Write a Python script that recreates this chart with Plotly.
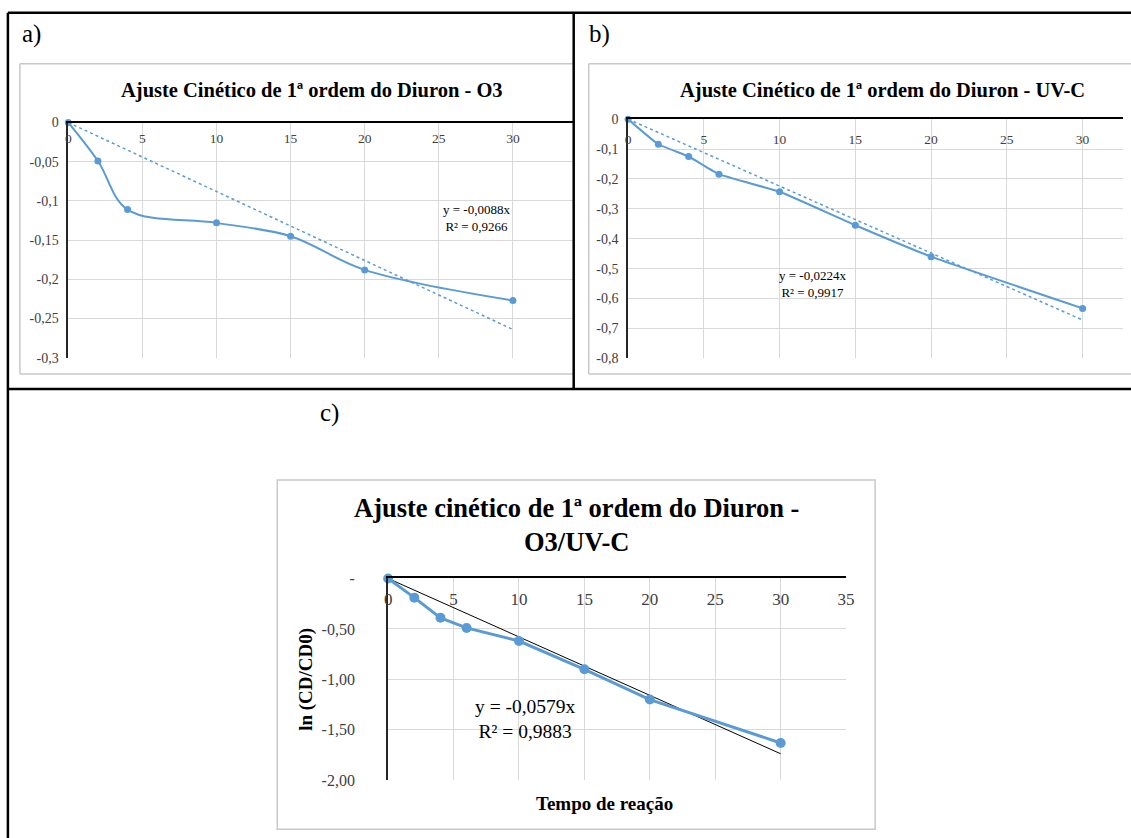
import plotly.graph_objects as go

W, H = 1131, 838

# ---------------- data ----------------
time_a = [0, 2, 4, 10, 15, 20, 30]
ln_a = [0, -0.049, -0.111, -0.128, -0.145, -0.188, -0.227]
slope_a = -0.0088
eq_a = "y = -0,0088x<br>R² = 0,9266"
title_a = "Ajuste Cinético de 1ª ordem do Diuron - O3"

time_b = [0, 2, 4, 6, 10, 15, 20, 30]
ln_b = [0, -0.084, -0.125, -0.184, -0.243, -0.355, -0.460, -0.633]
slope_b = -0.0224
eq_b = "y = -0,0224x<br>R² = 0,9917"
title_b = "Ajuste Cinético de 1ª ordem do Diuron - UV-C"

time_c = [0, 2, 4, 6, 10, 15, 20, 30]
ln_c = [0, -0.19, -0.39, -0.49, -0.62, -0.90, -1.20, -1.63]
slope_c = -0.0579
eq_c = "y = -0,0579x<br>R² = 0,9883"
title_c = "Ajuste cinético de 1ª ordem do Diuron -<br>O3/UV-C"

trend_x = [0, 30]

x_ticks = [0, 5, 10, 15, 20, 25, 30, 35]
x_ticktext = ["0", "5", "10", "15", "20", "25", "30", "35"]
y_ticks_a = [0, -0.05, -0.1, -0.15, -0.2, -0.25, -0.3]
y_text_a = ["0", "-0,05", "-0,1", "-0,15", "-0,2", "-0,25", "-0,3"]
y_ticks_b = [0, -0.1, -0.2, -0.3, -0.4, -0.5, -0.6, -0.7, -0.8]
y_text_b = ["0", "-0,1", "-0,2", "-0,3", "-0,4", "-0,5", "-0,6", "-0,7", "-0,8"]
y_ticks_c = [0, -0.5, -1.0, -1.5, -2.0]
y_text_c = ["-", "-0,50", "-1,00", "-1,50", "-2,00"]

BLUE = "#5B9BD5"
GRID = "#D9D9D9"
FONT = "Liberation Serif"

# layout placement helpers (target picture pixels -> figure paper coords)
SX, SY, OX, OY = 0.988, 0.979, 4.1, 7.25


def fx(X):
    return (X - OX) / SX


def fy(Y):
    return (Y - OY) / SY


def px(X):
    return fx(X) / W


def py(Y):
    return 1 - fy(Y) / H


fig = go.Figure()

# panel a
fig.add_trace(go.Scatter(x=time_a, y=ln_a, mode="lines+markers", xaxis="x", yaxis="y",
                         line=dict(color=BLUE, width=2, shape="spline", smoothing=1.0),
                         marker=dict(color=BLUE, size=7), cliponaxis=False))
fig.add_trace(go.Scatter(x=trend_x, y=[slope_a * t for t in trend_x], mode="lines", xaxis="x", yaxis="y",
                         line=dict(color=BLUE, width=1.5, dash="dot")))
# panel b
fig.add_trace(go.Scatter(x=time_b, y=ln_b, mode="lines+markers", xaxis="x2", yaxis="y2",
                         line=dict(color=BLUE, width=2, shape="spline", smoothing=0.4),
                         marker=dict(color=BLUE, size=7), cliponaxis=False))
fig.add_trace(go.Scatter(x=trend_x, y=[slope_b * t for t in trend_x], mode="lines", xaxis="x2", yaxis="y2",
                         line=dict(color=BLUE, width=1.5, dash="dot")))
# panel c
fig.add_trace(go.Scatter(x=trend_x, y=[slope_c * t for t in trend_x], mode="lines", xaxis="x3", yaxis="y3",
                         line=dict(color="#000000", width=1)))
fig.add_trace(go.Scatter(x=time_c, y=ln_c, mode="lines+markers", xaxis="x3", yaxis="y3",
                         line=dict(color=BLUE, width=3),
                         marker=dict(color=BLUE, size=10), cliponaxis=False))


def xaxis(domain, rng, fsize, lw, standoff):
    return dict(domain=domain, range=rng, side="top", tickvals=x_ticks, ticktext=x_ticktext,
                ticklabelposition="inside", ticklabeloverflow="allow", ticks="",
                ticklabelstandoff=standoff,
                showline=True, linecolor="#000000", linewidth=lw,
                showgrid=True, gridcolor=GRID, gridwidth=1, zeroline=False,
                tickfont=dict(family=FONT, size=fsize, color="#404040"))


def yaxis(domain, rng, vals, text, fsize, anchor, standoff, lw):
    return dict(domain=domain, range=rng, tickvals=vals, ticktext=text, anchor=anchor, ticks="",
                ticklabelstandoff=standoff,
                showline=True, linecolor="#262626", linewidth=lw,
                showgrid=True, gridcolor=GRID, gridwidth=1, zeroline=False,
                tickfont=dict(family=FONT, size=fsize, color="#404040"))


# plot areas (target pixels)
A_X0, A_XCLIP, A_Y0, A_Y1, A_PPU = 68.3, 573, 356.7, 121.7, 14.8
B_X0, B_XCLIP, B_Y0, B_Y1, B_PPU = 627.3, 1131, 357.3, 118.3, 15.13

xa_dom = [px(A_X0), px(A_XCLIP)]
ya_dom = [py(A_Y0), py(A_Y1)]
xb_dom = [px(B_X0), 1.0]
yb_dom = [py(B_Y0), py(B_Y1)]
xc_dom = [px(387.7), px(845)]
yc_dom = [py(779), py(577.3)]

a_max = (A_XCLIP - A_X0) / A_PPU
b_max = (W - fx(B_X0)) / (B_PPU / SX)

fig.update_layout(
    width=W, height=H, margin=dict(l=0, r=0, t=0, b=0),
    paper_bgcolor="white", plot_bgcolor="white", showlegend=False,
    xaxis=xaxis(xa_dom, [0, a_max], 13.5, 2, 11) | dict(anchor="y"),
    yaxis=yaxis(ya_dom, [-0.3, 0], y_ticks_a, y_text_a, 14, "x", 5, 1.5),
    xaxis2=xaxis(xb_dom, [0, b_max], 13.5, 2, 15) | dict(anchor="y2"),
    yaxis2=yaxis(yb_dom, [-0.8, 0], y_ticks_b, y_text_b, 14, "x2", 5, 1.5),
    xaxis3=xaxis(xc_dom, [0, 35], 17, 2, 15) | dict(anchor="y3"),
    yaxis3=yaxis(yc_dom, [-2, 0], y_ticks_c, y_text_c, 16, "x3", 28, 2) | dict(
        title=dict(text="<b>ln (CD/CD0)</b>", font=dict(family=FONT, size=19, color="#000"), standoff=4)),
)

ann = []
# equations (data coords)
ann.append(dict(x=27.55, y=-0.1223, xref="x", yref="y", text=eq_a, showarrow=False,
                font=dict(family=FONT, size=13, color="#000")))
ann.append(dict(x=12.14, y=-0.551, xref="x2", yref="y2", text=eq_b, showarrow=False,
                font=dict(family=FONT, size=13, color="#000")))
ann.append(dict(x=10.5, y=-1.39, xref="x3", yref="y3", text=eq_c, showarrow=False,
                font=dict(family=FONT, size=19.5, color="#000")))
# titles
ann.append(dict(x=px(312), y=py(90), xref="paper", yref="paper", text="<b>" + title_a + "</b>",
                xanchor="center", yanchor="middle",
                showarrow=False, font=dict(family=FONT, size=20.5, color="#000")))
ann.append(dict(x=px(881), y=py(90), xref="paper", yref="paper", text="<b>" + title_b + "</b>",
                xanchor="center", yanchor="middle",
                showarrow=False, font=dict(family=FONT, size=20.5, color="#000")))
ann.append(dict(x=px(576), y=py(524), xref="paper", yref="paper", text="<b>" + title_c + "</b>",
                xanchor="center", yanchor="middle",
                showarrow=False, font=dict(family=FONT, size=26.5, color="#000")))
ann.append(dict(x=px(604), y=py(802), xref="paper", yref="paper", text="<b>Tempo de reação</b>",
                xanchor="center", yanchor="middle",
                showarrow=False, font=dict(family=FONT, size=19, color="#000")))
# panel labels
for lab, x0, y0 in [("a)", 20, 33), ("b)", 586, 33), ("c)", 318, 412)]:
    ann.append(dict(x=px(x0), y=py(y0), xref="paper", yref="paper", text=lab, xanchor="left",
                    yanchor="middle", showarrow=False, font=dict(family=FONT, size=25, color="#000")))
fig.update_layout(annotations=ann)

shapes = []
FR = "#C8C8C8"


def line(x0, y0, x1, y1, color, w):
    shapes.append(dict(type="line", xref="paper", yref="paper", x0=px(x0), y0=py(y0), x1=px(x1), y1=py(y1),
                       line=dict(color=color, width=w), layer="above"))


# chart frames
line(20, 63, 573, 63, FR, 1.5)
line(20, 63, 20, 373, FR, 1.5)
line(20, 373, 573, 373, FR, 1.5)
line(588, 63, 1140, 63, FR, 1.5)
line(588, 63, 588, 373, FR, 1.5)
line(588, 373, 1140, 373, FR, 1.5)
shapes.append(dict(type="rect", xref="paper", yref="paper", x0=px(277), y0=py(479), x1=px(874), y1=py(828),
                   line=dict(color=FR, width=1.5), layer="above"))
# table borders
line(8, 12, 1140, 12, "#000", 2.5)
line(8, 12, 8, 850, "#000", 2.5)
line(573, 12, 573, 388, "#000", 2.5)
line(8, 388, 1140, 388, "#000", 2.5)
fig.update_layout(shapes=shapes)

fig.write_html(
    "out.html",
    config={"displayModeBar": False},
    post_script=(
        "document.documentElement.style.margin='0';document.documentElement.style.overflow='hidden';"
        "document.body.style.margin='0';document.body.style.overflow='hidden';"
        "var d=document.getElementsByClassName('plotly-graph-div')[0];"
        "d.style.position='fixed';d.style.left='0px';d.style.top='0px';"
    ),
)
